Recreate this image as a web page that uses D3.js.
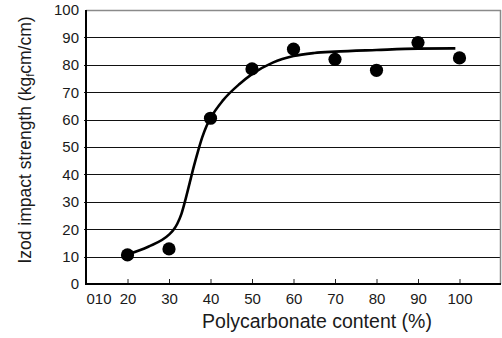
<!DOCTYPE html>
<html>
<head>
<meta charset="utf-8">
<script src="https://cdn.jsdelivr.net/npm/d3@7/dist/d3.min.js"></script>
<style>
  html, body { margin: 0; padding: 0; background: #fff; }
  svg { display: block; font-family: "Liberation Sans", Arial, sans-serif; }
</style>
</head>
<body>
<svg id="chart" width="502" height="338"></svg>
<script>
// Measured impact strength vs. polycarbonate content
const contentPct = [20, 30, 40, 50, 60, 70, 80, 90, 100];
const impactStrength = [10.6, 12.8, 60.5, 78.5, 85.7, 82.0, 78.0, 88.1, 82.5];

// Smooth trend line through the data
const trendX = [20, 25, 30, 31, 32, 33, 34, 35, 36, 37, 38, 39, 40, 43, 47, 50, 55, 60, 65, 70, 80, 90, 99];
const trendY = [10.8, 13.6, 18.0, 19.6, 22.0, 25.6, 31.0, 37.0, 43.0, 48.5, 53.5, 57.5, 60.5, 67.0, 73.0, 76.6, 80.8, 83.2, 84.3, 84.8, 85.4, 85.9, 86.0];

// Axis ticks and labels
const yTicks = [0, 10, 20, 30, 40, 50, 60, 70, 80, 90, 100];
const yTickLabels = ["0", "10", "20", "30", "40", "50", "60", "70", "80", "90", "100"];
const xTicks = [10, 20, 30, 40, 50, 60, 70, 80, 90, 100];
const xTickLabels = ["010", "20", "30", "40", "50", "60", "70", "80", "90", "100"];

const svg = d3.select("#chart");
const plotL = 86, plotR = 501, plotT = 10, plotB = 284;

const x = d3.scaleLinear().domain([10, 110]).range([plotL, plotR]);
const y = d3.scaleLinear().domain([0, 100]).range([plotB, plotT]);

// Horizontal grid lines
svg.append("g")
  .selectAll("line")
  .data(yTicks.filter(d => d > 0 && d < 100))
  .join("line")
  .attr("x1", plotL - 2).attr("x2", plotR)
  .attr("y1", d => Math.round(y(d)) + 0.5).attr("y2", d => Math.round(y(d)) + 0.5)
  .attr("stroke", "#111").attr("stroke-width", 1);

// Top and right frame
svg.append("line")
  .attr("x1", plotL).attr("x2", plotR).attr("y1", plotT + 0.5).attr("y2", plotT + 0.5)
  .attr("stroke", "#8a8a8a").attr("stroke-width", 1.5);
svg.append("line")
  .attr("x1", plotR - 0.5).attr("x2", plotR - 0.5).attr("y1", plotT).attr("y2", plotB)
  .attr("stroke", "#8a8a8a").attr("stroke-width", 1.5);

// Y axis
const yAxis = d3.axisLeft(y).tickValues(yTicks)
  .tickFormat((d, i) => yTickLabels[i]).tickSize(0).tickPadding(7);
const gy = svg.append("g").attr("transform", `translate(${plotL},0)`).call(yAxis);
gy.select(".domain").remove();
gy.selectAll("text").attr("font-size", 15).attr("fill", "#1a1a1a")
  .attr("font-family", "Liberation Sans, Arial, sans-serif");

// X axis (inward ticks)
const xAxis = d3.axisBottom(x).tickValues(xTicks)
  .tickFormat((d, i) => xTickLabels[i]).tickSize(0).tickPadding(9);
const gx = svg.append("g").attr("transform", `translate(0,${plotB})`).call(xAxis);
gx.select(".domain").remove();
gx.selectAll("text").attr("font-size", 15).attr("fill", "#1a1a1a")
  .attr("font-family", "Liberation Sans, Arial, sans-serif");
gx.selectAll(".tick").filter(d => d === 10).select("text")
  .attr("text-anchor", "start");
gx.selectAll(".tick").filter(d => d !== 10).append("line")
  .attr("y1", 0).attr("y2", -5).attr("stroke", "#222").attr("stroke-width", 1);

// Axis lines
svg.append("line")
  .attr("x1", plotL).attr("x2", plotL).attr("y1", plotT).attr("y2", plotB + 1)
  .attr("stroke", "#000").attr("stroke-width", 2);
svg.append("line")
  .attr("x1", plotL - 1).attr("x2", plotR).attr("y1", plotB).attr("y2", plotB)
  .attr("stroke", "#000").attr("stroke-width", 2);

// Trend curve
const line = d3.line()
  .x((d, i) => x(trendX[i]))
  .y(d => y(d))
  .curve(d3.curveMonotoneX);
svg.append("path")
  .attr("d", line(trendY))
  .attr("fill", "none").attr("stroke", "#000").attr("stroke-width", 2.6)
  .attr("stroke-linecap", "butt");

// Data points
svg.append("g")
  .selectAll("circle")
  .data(impactStrength)
  .join("circle")
  .attr("cx", (d, i) => x(contentPct[i]))
  .attr("cy", d => y(d))
  .attr("r", 6.6)
  .attr("fill", "#000");

// Axis titles
svg.append("text")
  .attr("x", 317).attr("y", 328)
  .attr("text-anchor", "middle")
  .attr("font-size", 19.5).attr("fill", "#1a1a1a")
  .text("Polycarbonate content (%)");

const yt = svg.append("text")
  .attr("transform", "translate(31,140) rotate(-90)")
  .attr("text-anchor", "middle")
  .attr("font-size", 17.5).attr("fill", "#1a1a1a");
yt.append("tspan").text("Izod impact strength (kg");
yt.append("tspan").attr("font-size", 11).attr("dy", 3).text("f");
yt.append("tspan").attr("dy", -3).text("cm/cm)");
</script>
</body>
</html>
